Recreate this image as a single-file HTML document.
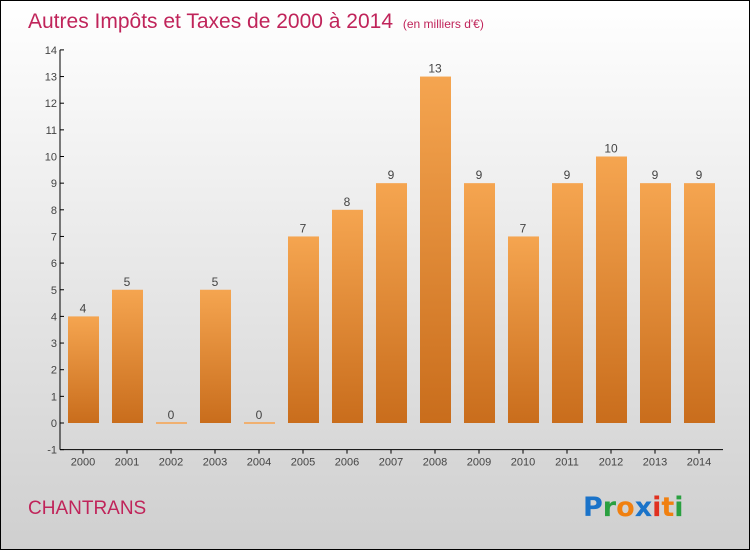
<!DOCTYPE html>
<html><head><meta charset="utf-8"><style>
html,body{margin:0;padding:0}
body{width:750px;height:550px;overflow:hidden;font-family:"Liberation Sans",sans-serif}
#wrap{position:absolute;left:0;top:0;width:748px;height:548px;border:1px solid #000;background:linear-gradient(#ffffff,#cfcfcf)}
</style></head><body>
<div id="wrap">
<svg id="chart" width="748" height="548">
<defs><linearGradient id="bg" x1="0" y1="0" x2="0" y2="1"><stop offset="0" stop-color="#f5a550"/><stop offset="1" stop-color="#c96d1c"/></linearGradient></defs>
<text x="27" y="27" font-size="21" fill="#c0245a">Autres Impôts et Taxes de 2000 à 2014 <tspan font-size="12" dx="4">(en milliers d'€)</tspan></text>
<text x="27" y="513" font-size="19" fill="#c0245a">CHANTRANS</text>
<g font-size="27" font-weight="bold" font-family="'DejaVu Sans',sans-serif">
<text x="582" y="515"><tspan fill="#1a73c9">P</tspan><tspan fill="#2aa040">r</tspan><tspan fill="#f08010">o</tspan><tspan fill="#1a73c9">x</tspan><tspan fill="#e03020">i</tspan><tspan fill="#f08010">t</tspan><tspan fill="#2aa040">i</tspan></text></g>
<g id="plot"></g>
</svg></div>
<script>
const years=["2000","2001","2002","2003","2004","2005","2006","2007","2008","2009","2010","2011","2012","2013","2014"];
const values=[4,5,0,5,0,7,8,9,13,9,7,9,10,9,9];
const yTicks=[-1,0,1,2,3,4,5,6,7,8,9,10,11,12,13,14];
const NS="http://www.w3.org/2000/svg";
const g=document.getElementById('plot');
const y=v=>422-v*26.65;
const x=i=>82+i*44;
function mk(t,a){const e=document.createElementNS(NS,t);for(const k in a)e.setAttribute(k,a[k]);g.appendChild(e);return e;}
let ax=mk('line',{x1:59,y1:y(14),x2:59,y2:y(-1),stroke:'#000'});


let bx=mk('line',{x1:59,y1:y(-1),x2:722,y2:y(-1),stroke:'#000'});


yTicks.forEach(v=>{
 let l=mk('line',{x1:59,x2:63,y1:y(v),y2:y(v),stroke:'#000'});
 
 
 let t=mk('text',{x:56,y:y(v)+4,'font-size':11,'text-anchor':'end',fill:'#444'});t.textContent=v;
 
 
});
years.forEach((yr,i)=>{
 const v=values[i];
 let r;
 if(v===0){r=mk('rect',{x:x(i)-15,y:y(0)-1,width:31,height:2,fill:'#f0b070'});}
 else r=mk('rect',{x:x(i)-15,y:y(v),width:31,height:y(0)-y(v),fill:'url(#bg)'});
 
 
 let vl=mk('text',{x:x(i),y:y(v)-4,'font-size':12,'text-anchor':'middle',fill:'#444'});vl.textContent=v;
 
 
 let tk=mk('line',{x1:x(i),x2:x(i),y1:y(-1),y2:y(-1)+4,stroke:'#000'});
 
 
 let xl=mk('text',{x:x(i),y:y(-1)+16,'font-size':11,'text-anchor':'middle',fill:'#444'});xl.textContent=yr;
 
 
});
</script>
</body></html>
